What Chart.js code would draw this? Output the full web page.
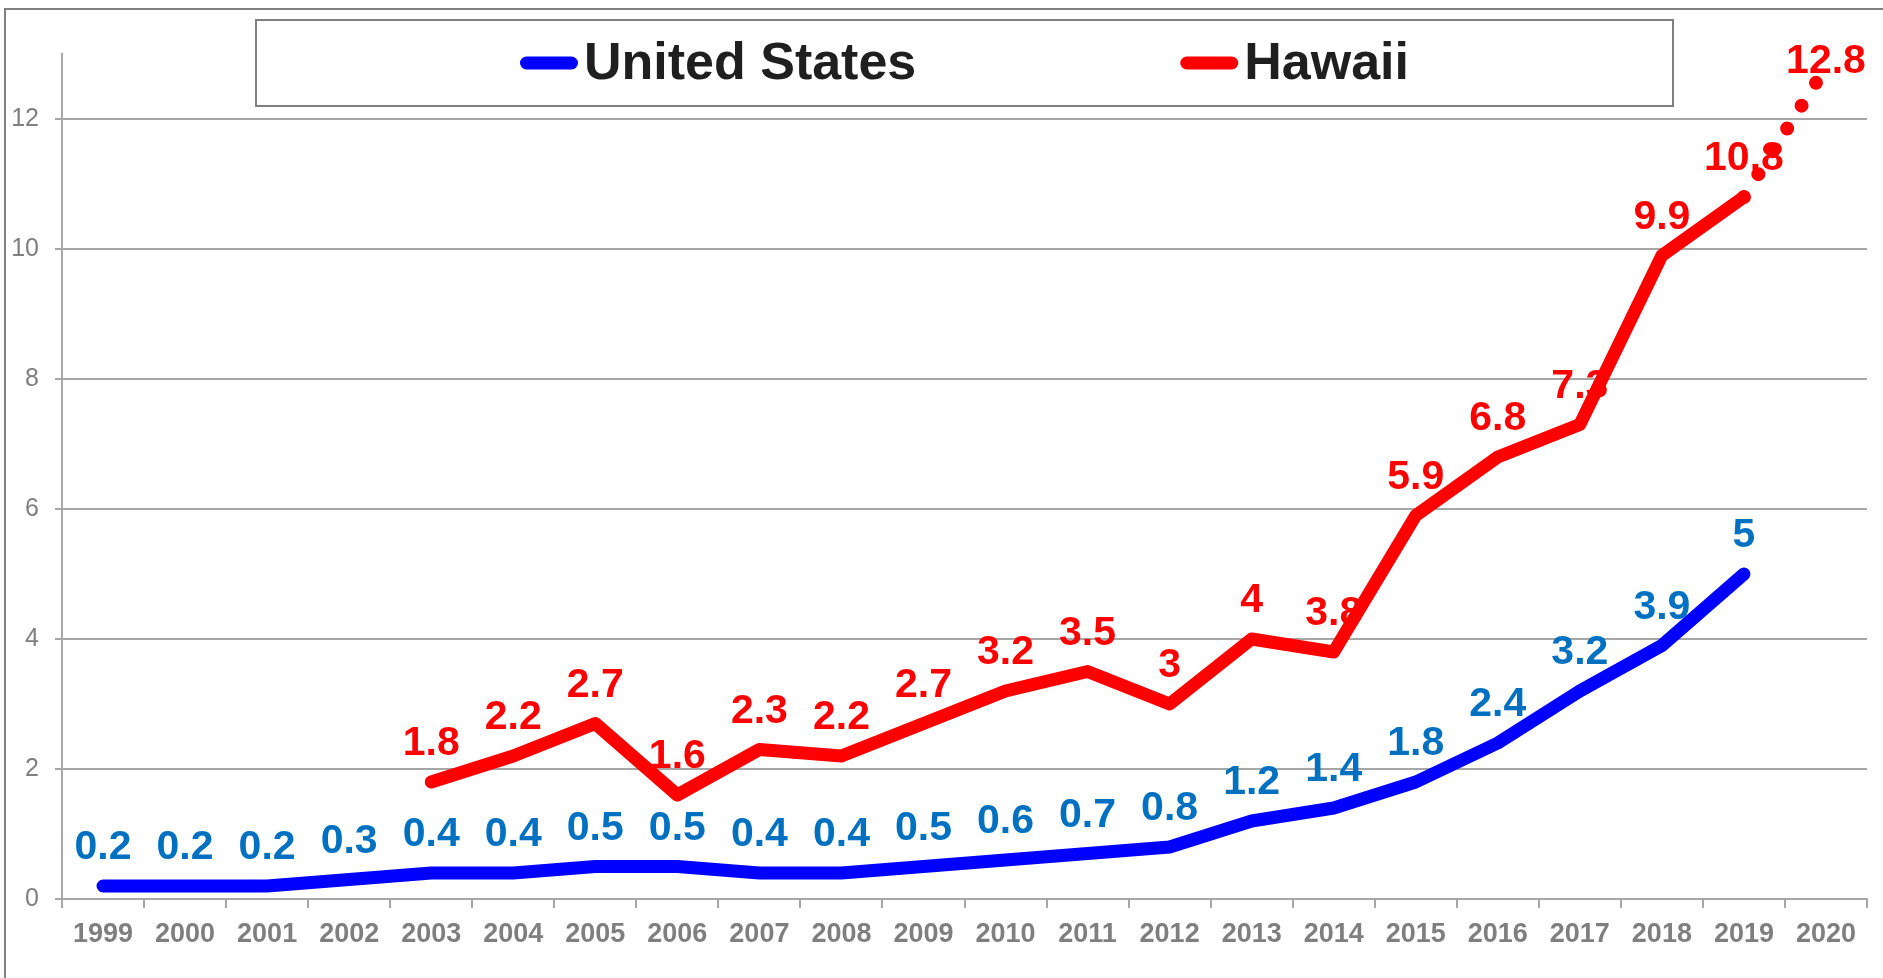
<!DOCTYPE html>
<html>
<head>
<meta charset="utf-8">
<script src="https://cdn.jsdelivr.net/npm/chart.js@4"></script>
<style>
  html, body { margin: 0; padding: 0; background: #fff; }
  canvas { display: block; }
</style>
</head>
<body>
<canvas id="chart" width="1883" height="978"></canvas>
<script>
const years = ['1999', '2000', '2001', '2002', '2003', '2004', '2005', '2006', '2007', '2008', '2009',
    '2010', '2011', '2012', '2013', '2014', '2015', '2016', '2017', '2018', '2019', '2020'];
const usValues = [0.2, 0.2, 0.2, 0.3, 0.4, 0.4, 0.5, 0.5, 0.4, 0.4, 0.5,
    0.6, 0.7, 0.8, 1.2, 1.4, 1.8, 2.4, 3.2, 3.9, 5, null];
const hawaiiValues = [null, null, null, null, 1.8, 2.2, 2.7, 1.6, 2.3, 2.2, 2.7,
    3.2, 3.5, 3, 4, 3.8, 5.9, 6.8, 7.3, 9.9, 10.8, 12.8];
const yTicks = [0, 2, 4, 6, 8, 10, 12];
const seriesNames = ['United States', 'Hawaii'];
const lineColors = ['#0000FF', '#FF0000'];
const labelColors = ['#0070C0', '#FF0000'];
const projectedFrom = 20; // Hawaii after 2019 is drawn dotted

const FONT = '"Liberation Sans", Arial, Helvetica, sans-serif';
Chart.defaults.font.family = FONT;

// value labels sit under the lines, like in the original
const valueLabels = {
    id: 'valueLabels',
    beforeDatasetsDraw(chart) {
        const ctx = chart.ctx;
        ctx.save();
        ctx.font = 'bold 41px ' + FONT;
        ctx.textAlign = 'center';
        ctx.textBaseline = 'alphabetic';
        chart.data.datasets.forEach((ds, i) => {
            const meta = chart.getDatasetMeta(i);
            ctx.fillStyle = labelColors[i];
            meta.data.forEach((pt, j) => {
                const v = ds.data[j];
                if (v == null) return;
                const y = Math.max(pt.y - 27, chart.chartArea.top + 19);
                ctx.fillText(String(v), pt.x, y);
            });
        });
        ctx.restore();
    }
};

const boxLegend = {
    id: 'boxLegend',
    afterDraw(chart) {
        const ctx = chart.ctx;
        ctx.save();
        ctx.strokeStyle = '#808080';
        ctx.lineWidth = 2;
        ctx.strokeRect(5, 9, 1900, 1000);
        ctx.strokeRect(256, 20, 1417, 86);

        ctx.font = 'bold 52px ' + FONT;
        const sample = 58, gap = 6, spacing = 264;
        const widths = seriesNames.map(n => sample + gap + ctx.measureText(n).width);
        const total = widths.reduce((a, b) => a + b, 0) + spacing * (widths.length - 1);
        let x = 256 + 1417 / 2 - total / 2;
        const y = 63;
        widths.forEach((w, i) => {
            ctx.strokeStyle = lineColors[i];
            ctx.lineWidth = 13;
            ctx.lineCap = 'round';
            ctx.beginPath();
            ctx.moveTo(x + 6.5, y);
            ctx.lineTo(x + sample - 6.5, y);
            ctx.stroke();
            ctx.fillStyle = '#1f1f1f';
            ctx.textAlign = 'left';
            ctx.textBaseline = 'middle';
            ctx.fillText(seriesNames[i], x + sample + gap, y + 2);
            x += w + spacing;
        });
        ctx.restore();
    }
};

const lineStyle = {
    borderWidth: 13,
    borderCapStyle: 'round',
    borderJoinStyle: 'round',
    pointRadius: 0,
    pointHoverRadius: 0,
    tension: 0
};

new Chart(document.getElementById('chart'), {
    type: 'line',
    data: {
        labels: years,
        datasets: [
            Object.assign({
                label: seriesNames[0],
                data: usValues,
                borderColor: lineColors[0],
                backgroundColor: lineColors[0]
            }, lineStyle),
            Object.assign({
                label: seriesNames[1],
                data: hawaiiValues,
                borderColor: lineColors[1],
                backgroundColor: lineColors[1],
                segment: {
                    borderDash: c => c.p0DataIndex >= projectedFrom ? [0, 27] : undefined,
                    borderWidth: c => c.p0DataIndex >= projectedFrom ? 14 : undefined
                }
            }, lineStyle)
        ]
    },
    options: {
        responsive: false,
        animation: false,
        devicePixelRatio: 1,
        layout: { padding: { top: 54, right: 16, left: 0, bottom: 0 } },
        plugins: { legend: { display: false }, tooltip: { enabled: false } },
        scales: {
            x: {
                offset: true,
                grid: { offset: true, drawOnChartArea: false, tickLength: 9, color: '#a6a6a6', lineWidth: 2 },
                border: { color: '#a6a6a6', width: 2 },
                ticks: { color: '#7f7f7f', font: { size: 27, weight: 'bold' }, padding: 10, maxRotation: 0, autoSkip: false },
                afterFit: s => { s.height = 79; }
            },
            y: {
                min: 0,
                max: 13,
                ticks: { stepSize: 2, color: '#7f7f7f', font: { size: 25 }, padding: 16 },
                grid: { color: '#a6a6a6', lineWidth: 2, tickLength: 7 },
                border: { color: '#a6a6a6', width: 2 },
                afterBuildTicks: s => { s.ticks = yTicks.map(v => ({ value: v })); },
                afterFit: s => { s.width = 62; }
            }
        }
    },
    plugins: [valueLabels, boxLegend]
});
</script>
</body>
</html>
